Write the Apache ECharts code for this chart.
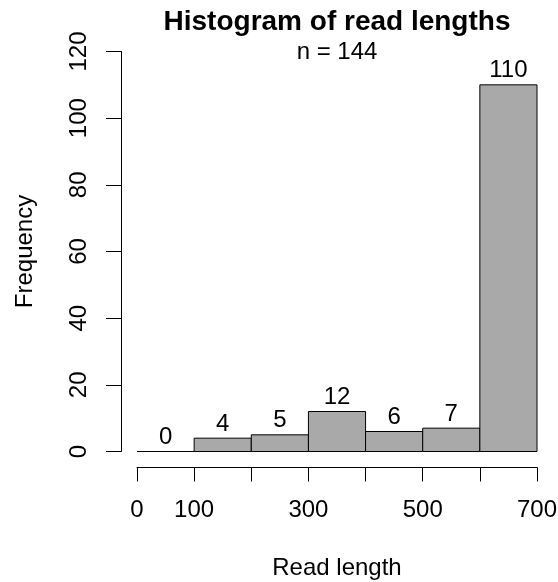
<!DOCTYPE html>
<html>
<head>
<meta charset="utf-8">
<script src="https://cdn.jsdelivr.net/npm/echarts@6/dist/echarts.min.js"></script>
<style>
  html, body { margin: 0; padding: 0; background: #fff; }
  #chart { width: 558px; height: 582px; }
</style>
</head>
<body>
<div id="chart"></div>
<script>
// histogram bins and counts
var binStarts = [0, 100, 200, 300, 400, 500, 600];
var binEnds = [100, 200, 300, 400, 500, 600, 700];
var counts = [0, 4, 5, 12, 6, 7, 110];
var xTickLabels = ['0', '100', '', '300', '', '500', '', '700'];
var total = 144;

var font = 'Liberation Sans, Arial, Helvetica, sans-serif';

var rows = [];
for (var i = 0; i < counts.length; i++) {
    rows.push([binStarts[i], binEnds[i], counts[i]]);
}

var myChart = echarts.init(document.getElementById('chart'));

var option = {
    animation: false,
    backgroundColor: '#fff',
    title: {
        text: 'Histogram of read lengths',
        subtext: 'n = ' + total,
        left: 337,
        top: 8,
        textAlign: 'center',
        padding: 0,
        itemGap: 4,
        textStyle: {
            fontFamily: font,
            fontSize: 28,
            fontWeight: 'bold',
            color: '#000'
        },
        subtextStyle: {
            fontFamily: font,
            fontSize: 24,
            color: '#000'
        }
    },
    grid: {
        left: 137,
        top: 51.5,
        width: 400,
        height: 400,
        outerBoundsMode: 'none'
    },
    xAxis: {
        type: 'value',
        min: 0,
        max: 700,
        interval: 100,
        offset: 16,
        name: 'Read length',
        nameLocation: 'middle',
        nameGap: 89,
        nameMoveOverlap: false,
        nameTextStyle: { fontFamily: font, fontSize: 24, color: '#000' },
        axisLine: { show: true, onZero: false, lineStyle: { color: '#000', width: 1 } },
        axisTick: { show: true, length: 14, lineStyle: { color: '#000', width: 1 } },
        splitLine: { show: false },
        axisLabel: {
            margin: 31,
            showMinLabel: true,
            showMaxLabel: true,
            fontFamily: font,
            fontSize: 24,
            color: '#000',
            formatter: function (v) {
                return xTickLabels[Math.round(v / 100)];
            }
        }
    },
    yAxis: {
        type: 'value',
        min: 0,
        max: 120,
        interval: 20,
        offset: 16,
        name: 'Frequency',
        nameLocation: 'middle',
        nameRotate: 90,
        nameGap: 84,
        nameMoveOverlap: false,
        nameTextStyle: { fontFamily: font, fontSize: 24, color: '#000' },
        axisLine: { show: true, onZero: false, lineStyle: { color: '#000', width: 1 } },
        axisTick: { show: true, length: 15, lineStyle: { color: '#000', width: 1 } },
        splitLine: { show: false },
        axisLabel: {
            rotate: 90,
            margin: 30,
            showMinLabel: true,
            showMaxLabel: true,
            fontFamily: font,
            fontSize: 24,
            color: '#000'
        }
    },
    series: [{
        type: 'custom',
        encode: { x: [0, 1], y: 2 },
        data: rows,
        renderItem: function (params, api) {
            var lo = api.value(0), hi = api.value(1), n = api.value(2);
            var p0 = api.coord([lo, 0]);
            var p1 = api.coord([hi, n]);
            return {
                type: 'group',
                children: [{
                    type: 'rect',
                    shape: { x: p0[0], y: p1[1], width: p1[0] - p0[0], height: p0[1] - p1[1] },
                    style: { fill: '#a9a9a9', stroke: '#000', lineWidth: 1 }
                }, {
                    type: 'text',
                    style: {
                        text: String(n),
                        x: (p0[0] + p1[0]) / 2,
                        y: p1[1] - 14,
                        align: 'center',
                        verticalAlign: 'middle',
                        font: '24px ' + font,
                        fill: '#000'
                    }
                }]
            };
        }
    }]
};

myChart.setOption(option);
</script>
</body>
</html>
